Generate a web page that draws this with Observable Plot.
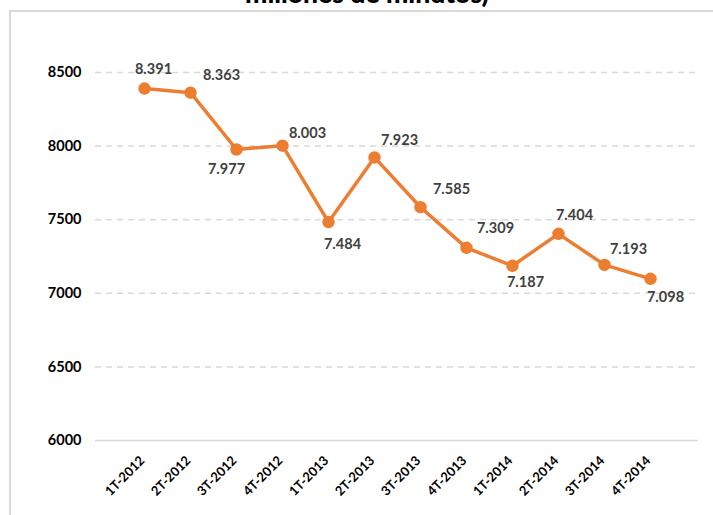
<!DOCTYPE html>
<html>
<head>
<meta charset="utf-8">
<script src="https://cdn.jsdelivr.net/npm/d3@7"></script>
<script src="https://cdn.jsdelivr.net/npm/@observablehq/plot@0.6"></script>
<style>
  html, body { margin: 0; padding: 0; background: #fff; }
  body { width: 713px; height: 515px; position: relative; overflow: hidden; font-family: Lato, "Liberation Sans", sans-serif; }
  #frame { position: absolute; left: 9px; top: 10px; width: 720px; height: 520px; border-left: 2px solid #d9d9d9; border-top: 2px solid #d9d9d9; }
  #title { position: absolute; left: 0; width: 734px; top: -20.5px; text-align: center; font-size: 26.5px; line-height: 26.5px; font-weight: 900; color: #000; white-space: nowrap; }
  #chart { position: absolute; left: 0; top: 0; }
</style>
</head>
<body>
<div id="frame"></div>
<div id="title">millones de minutos)</div>
<div id="chart"></div>
<script>
// Data
const quarters = ["1T-2012","2T-2012","3T-2012","4T-2012","1T-2013","2T-2013","3T-2013","4T-2013","1T-2014","2T-2014","3T-2014","4T-2014"];
const minutes = [8391, 8363, 7977, 8003, 7484, 7923, 7585, 7309, 7187, 7404, 7193, 7098];
const yTicks = [6000, 6500, 7000, 7500, 8000, 8500];

// Label placement (pixel offsets from each point)
const labelDx = [9, 31, -10, 25, 14, 25, 31, 29, 13, 16, 24, 15];
const labelDy = [-19, -17, 20, -12, 22, -17, -18, -19, 17, -18, -16, 18];

const data = quarters.map((q, i) => ({q, v: minutes[i]}));
const fmt = d3.formatLocale({decimal: ",", thousands: ".", grouping: [3], currency: ["", ""]}).format(",d");
const orange = "#ED7D31";

const labelMarks = data.map((d, i) => Plot.text([d], {
  x: "q", y: "v", text: d => fmt(d.v),
  dx: labelDx[i], dy: labelDy[i],
  fill: "#404040", fontSize: 14.5, fontWeight: "bold", textAnchor: "middle", lineAnchor: "middle"
}));

const chart = Plot.plot({
  width: 713,
  height: 515,
  marginLeft: 95,
  marginRight: 15,
  marginTop: 72,
  marginBottom: 75,
  style: {fontFamily: "Lato, 'Liberation Sans', sans-serif", background: "transparent", overflow: "visible"},
  x: {type: "point", domain: quarters, padding: 0.97, label: null},
  y: {domain: [6000, 8500], label: null},
  marks: [
    Plot.ruleY(yTicks.filter(t => t > 6000), {stroke: "#d9d9d9", strokeWidth: 1.5, strokeDasharray: "6,5", strokeOpacity: 1}),
    Plot.ruleY([6000], {stroke: "#d9d9d9", strokeWidth: 1.5, strokeOpacity: 1}),
    Plot.axisY({ticks: yTicks, tickSize: 0, tickPadding: 14, tickFormat: d => String(d), fontSize: 14.5, fontWeight: "bold", fill: "#000", label: null}),
    Plot.axisX({tickSize: 0, tickPadding: 18, tickRotate: -45, fontSize: 13, fontWeight: "bold", fill: "#000", label: null, dx: -2}),
    Plot.line(data, {x: "q", y: "v", stroke: orange, strokeWidth: 3.5}),
    Plot.dot(data, {x: "q", y: "v", r: 5.5, fill: orange, stroke: orange}),
    ...labelMarks
  ]
});
document.getElementById("chart").appendChild(chart);
</script>
</body>
</html>
